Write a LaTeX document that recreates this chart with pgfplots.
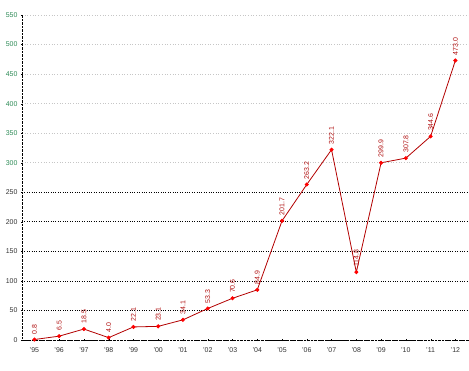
\documentclass[border=0pt]{standalone}
\usepackage{fontspec}
\setmainfont{Liberation Sans}
\usepackage{pgfplots}
\pgfplotsset{compat=1.18}
\definecolor{tkgreen}{HTML}{2E8B57}
\definecolor{lblred}{HTML}{B01010}
\begin{document}
\begin{tikzpicture}[x=1bp,y=1bp]
\useasboundingbox (-22bp,-31bp) rectangle (447bp,340bp);
\begin{axis}[
  at={(0,0)}, anchor=south west,
  scale only axis, width=447bp, height=325bp,
  xmin=-0.5, xmax=17.55, ymin=0, ymax=550,
  axis x line=bottom, axis y line=left,
  axis line style={-, black, densely dotted},
  xtick={0,...,17},
  xticklabels={'95,'96,'97,'98,'99,'00,'01,'02,'03,'04,'05,'06,'07,'08,'09,'10,'11,'12},
  x tick label style={yshift=-3bp},
  ytick={0,50,...,250},
  extra y ticks={300,350,...,550},
  extra y tick style={grid style={gray!45, dotted, line width=0.7pt}, tick label style={text=tkgreen}, major tick length=2bp},
  ymajorgrids,
  grid style={black, dotted, line width=0.7pt},
  major tick length=2bp,
  tick style={black},
  tick label style={font=\fontsize{7}{8}\selectfont, text=black!80},
  /pgf/number format/assume math mode=true,
  clip=false,
  nodes near coords,
  nodes near coords style={rotate=90, anchor=west, xshift=4bp, font=\fontsize{7}{8}\selectfont, text=lblred, inner sep=1bp},
  point meta=explicit symbolic,
]
\addplot[color=red!70!black, line width=0.8pt, mark=*, mark size=1.6pt, mark options={fill=red, draw=red}]
 table[meta=lbl] {
x y lbl
0 0.8 0.8
1 6.5 6.5
2 18.5 18.5
3 4.0 4.0
4 22.1 22.1
5 23.1 23.1
6 34.1 34.1
7 53.3 53.3
8 70.6 70.6
9 84.9 84.9
10 201.7 201.7
11 263.2 263.2
12 322.1 322.1
13 114.8 114.8
14 299.9 299.9
15 307.8 307.8
16 344.6 344.6
17 473.0 473.0
};
\end{axis}
\end{tikzpicture}
\end{document}
